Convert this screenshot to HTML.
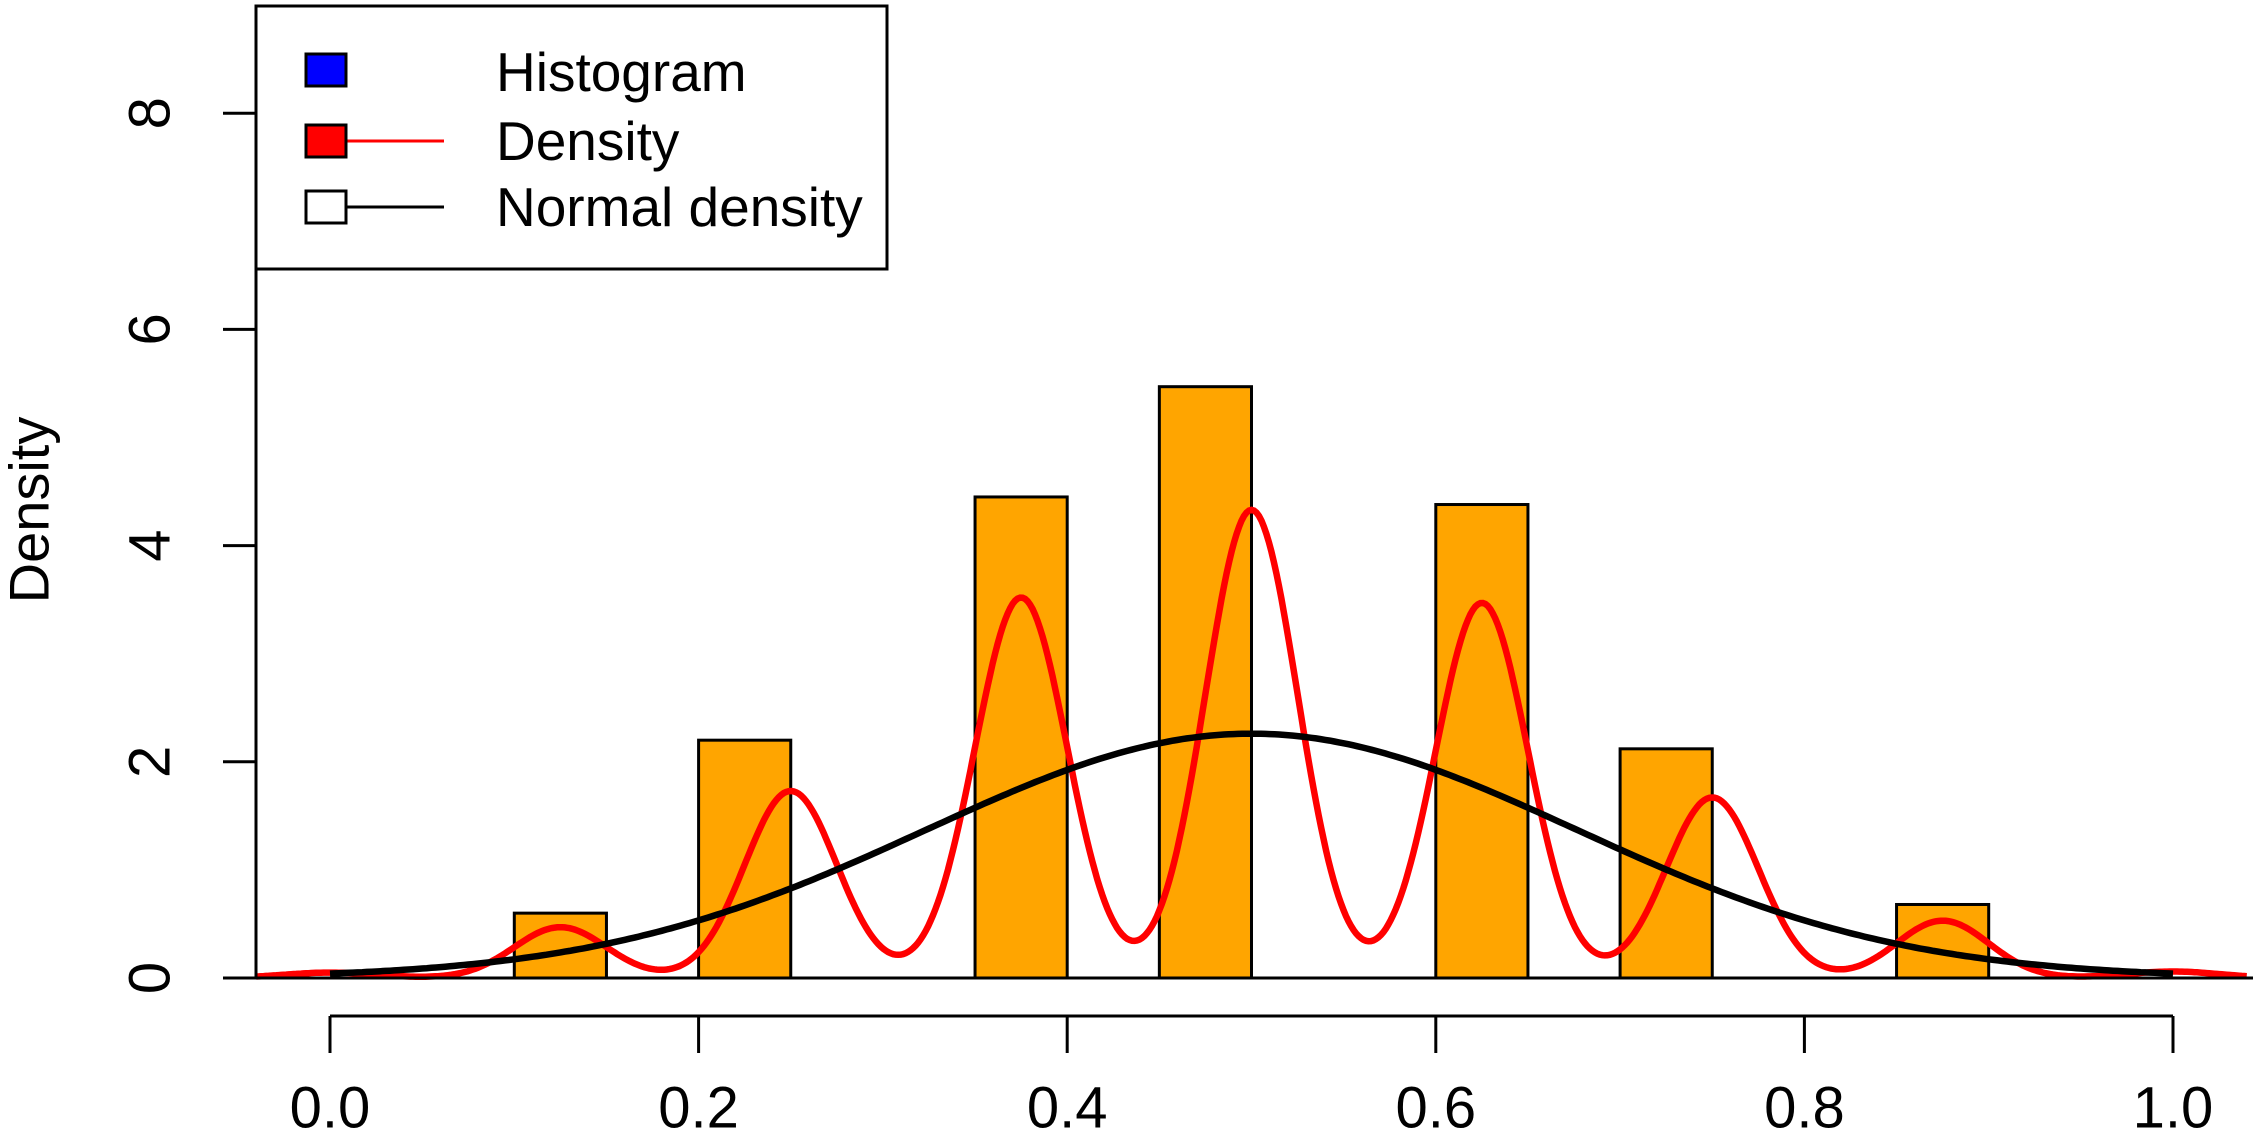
<!DOCTYPE html>
<html><head><meta charset="utf-8"><style>
html,body{margin:0;padding:0;background:#fff;}
svg{display:block;font-family:"Liberation Sans",sans-serif;}
</style></head><body>
<svg id="chart" width="2253" height="1144" viewBox="0 0 2253 1144">
<g id="bars"></g>
<g id="curves"></g>
<g id="axes"></g>
<text x="29" y="510" font-size="56" text-anchor="middle" dominant-baseline="central" transform="rotate(-90 29 510)">Density</text>
<g>
<rect x="256" y="6" width="631" height="263" fill="#fff" stroke="#000" stroke-width="3"/>
<g>
<rect x="306" y="54" width="40" height="32" fill="#0000ff" stroke="#000" stroke-width="3"/>
<text x="496" y="72" font-size="55" dominant-baseline="central">Histogram</text></g>
<g>
<line x1="346" y1="141" x2="444" y2="141" stroke="#ff0000" stroke-width="3"/>
<rect x="306" y="125" width="40" height="32" fill="#ff0000" stroke="#000" stroke-width="3"/>
<text x="496" y="141" font-size="55" dominant-baseline="central">Density</text></g>
<g>
<line x1="346" y1="207" x2="444" y2="207" stroke="#000" stroke-width="3"/>
<rect x="306" y="191" width="40" height="32" fill="#fff" stroke="#000" stroke-width="3"/>
<text x="496" y="207" font-size="55" dominant-baseline="central">Normal density</text></g>
</g>
</svg>
<script>
const binStarts = [0.10, 0.20, 0.35, 0.45, 0.60, 0.70, 0.85];
const binWidth = 0.05;
const binDensity = [0.60, 2.20, 4.45, 5.47, 4.38, 2.12, 0.68];
const kdeCenters = [0.0, 0.125, 0.25, 0.375, 0.5, 0.625, 0.75, 0.875, 1.0];
const kdePeaks = [0.05, 0.47, 1.73, 3.52, 4.33, 3.47, 1.67, 0.53, 0.06];
const kdeBandwidth = 0.025;
const normalMean = 0.5;
const normalSd = 0.1765;
const xTicks = [0, 0.2, 0.4, 0.6, 0.8, 1.0];
const xTickLabels = ["0.0", "0.2", "0.4", "0.6", "0.8", "1.0"];
const yTicks = [0, 2, 4, 6, 8];
const yTickLabels = ["0", "2", "4", "6", "8"];

const NS = "http://www.w3.org/2000/svg";
const X = v => 330 + v * 1843;
const Y = v => 978 - v * 108.1;
function mk(tag, attrs, parent){const e=document.createElementNS(NS,tag);for(const k in attrs)e.setAttribute(k,attrs[k]);parent.appendChild(e);return e;}

const bars = document.getElementById('bars');
binStarts.forEach((b,i)=>{
  const r = mk('rect',{x:X(b),y:Y(binDensity[i]),width:X(b+binWidth)-X(b),height:Y(0)-Y(binDensity[i]),fill:'#ffa500',stroke:'#000','stroke-width':3},bars);
  
  
});

const curves = document.getElementById('curves');
function kde(x){let s=0;kdeCenters.forEach((c,i)=>{s+=kdePeaks[i]*Math.exp(-((x-c)**2)/(2*kdeBandwidth**2));});return s;}
let d='';
for(let i=0;i<=800;i++){const x=-0.04+1.08*i/800;d+=(i?'L':'M')+X(x).toFixed(1)+','+Y(kde(x)).toFixed(1);}
const red = mk('path',{d:d,fill:'none',stroke:'#ff0000','stroke-width':6.5},curves);


let d2='';
for(let i=0;i<=400;i++){const x=i/400;const y=Math.exp(-((x-normalMean)**2)/(2*normalSd**2))/(normalSd*Math.sqrt(2*Math.PI));d2+=(i?'L':'M')+X(x).toFixed(1)+','+Y(y).toFixed(1);}
const blk = mk('path',{d:d2,fill:'none',stroke:'#000','stroke-width':6.5},curves);



const axes = document.getElementById('axes');
mk('line',{x1:256,y1:Y(0),x2:256,y2:Y(8),stroke:'#000','stroke-width':3},axes);
mk('line',{x1:256,y1:Y(0),x2:2253,y2:Y(0),stroke:'#000','stroke-width':3},axes);
mk('line',{x1:X(0),y1:1016,x2:X(1),y2:1016,stroke:'#000','stroke-width':3},axes);
xTicks.forEach((t,i)=>{
  mk('line',{x1:X(t),y1:1016,x2:X(t),y2:1053,stroke:'#000','stroke-width':3},axes);
  const tx = mk('text',{x:X(t),y:1108,'font-size':58,'text-anchor':'middle','dominant-baseline':'central'},axes);
  tx.textContent = xTickLabels[i];
  
  
});
yTicks.forEach((t,i)=>{
  mk('line',{x1:223,y1:Y(t),x2:256,y2:Y(t),stroke:'#000','stroke-width':3},axes);
  const tx = mk('text',{x:150,y:Y(t),'font-size':58,'text-anchor':'middle','dominant-baseline':'central',transform:`rotate(-90 150 ${Y(t)})`},axes);
  tx.textContent = yTickLabels[i];
  
  
});
</script>
</body></html>
